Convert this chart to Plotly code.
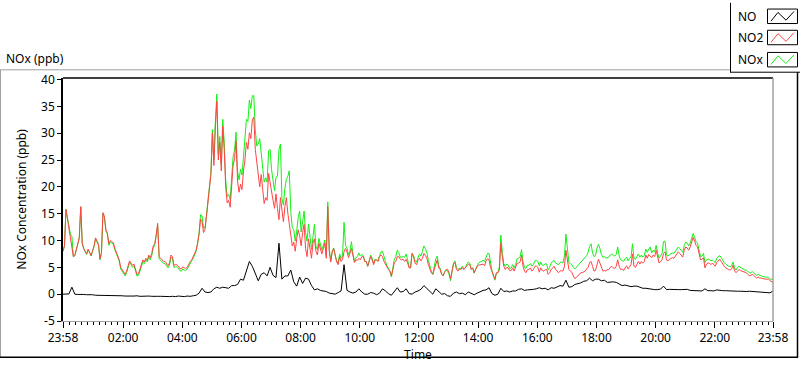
import pandas as pd
import plotly.graph_objects as go

# Time base: readings every 6 minutes from 23:58 to 23:58 next day,
# plus in-between readings (offset 3 min) for NO2 and NOx
start = pd.Timestamp("2023-01-01 23:58")
step_min = 6

no2 = [
    8.0, 15.8, 12.5, 9.5, 7.2, 9.3, 16.3, 8.5, 7.5, 7.8,
    8.1, 10.5, 9.3, 7.8, 14.5, 11.4, 10.0, 9.6, 7.8, 6.4,
    4.6, 3.7, 5.5, 5.8, 5.6, 3.7, 4.6, 6.4, 6.7, 7.3,
    7.6, 9.4, 13.2, 6.7, 6.1, 5.8, 5.8, 7.0, 5.5, 5.2,
    4.7, 4.9, 5.0, 6.1, 7.0, 8.2, 11.2, 13.5, 12.0,
    17.0, 22.3, 24.0, 36.0, 28.3, 31.3, 19.9, 17.5, 20.5, 25.3,
    21.1, 20.5, 22.9, 28.3, 30.1, 32.5, 27.0, 22.3, 22.3, 16.9,
    17.5, 20.5, 17.5, 18.7, 13.9, 15.1, 16.3, 15.1, 10.9, 9.7,
    10.3, 10.9, 11.5, 8.5, 10.3, 6.7, 10.3, 7.3, 8.5, 8.5,
    6.7, 8.0, 7.9, 7.3, 5.5, 6.1, 7.9, 7.9, 7.6,
    7.3, 6.4, 6.7, 7.0, 6.1, 5.2, 7.0, 5.5, 6.4, 7.0,
    7.0, 5.5, 4.6, 3.4, 5.9, 7.0, 6.5, 6.5, 6.5, 4.9,
    7.6, 5.8, 6.4, 6.2, 7.6, 6.7, 4.6, 3.7, 5.6, 4.9,
    3.7, 4.1, 4.6, 2.9, 5.6, 4.6, 4.7, 5.0, 5.0, 5.6,
    4.6, 4.0, 5.2, 5.5, 5.6, 6.2, 6.4,
    4.3, 2.8, 4.0, 9.5, 5.2, 5.0, 4.4, 4.9, 4.9, 5.8,
    7.3, 4.3, 4.6, 4.9, 4.6, 5.3, 4.1, 4.4, 4.6, 3.7,
    4.6, 5.2, 4.3, 4.3, 4.3, 8.2, 4.6, 4.1, 2.9, 3.4,
    4.0, 4.1, 4.7, 5.9, 5.2, 4.4, 6.5, 4.9, 4.4, 4.6,
    5.0, 4.9, 5.2, 5.2, 4.7, 4.9, 4.7, 5.5,
    5.2, 5.5, 5.6, 5.8, 7.3, 7.4, 6.8, 7.0, 6.7, 6.1,
    7.6, 6.4, 6.5, 6.8, 7.1, 7.9, 7.3, 8.2, 8.6, 8.8,
    10.6, 9.1, 7.4, 6.5, 4.9, 5.8, 5.5, 5.5, 5.9, 6.5,
    5.5, 4.9, 4.6, 4.7, 4.4, 4.4, 4.4, 4.2, 4.0, 3.4,
    3.7, 3.2, 3.2, 3.0, 2.8, 2.8, 2.5, 2.2,
]

no2_mid = [
    9.0, 14.0, 10.5, 7.0, 8.2, 10.5, 9.5, 8.0, 8.4, 7.2,
    9.0, 9.8, 6.6, 15.2, 12.0, 9.4, 9.8, 8.6, 7.0, 5.0,
    4.0, 4.3, 6.2, 5.4, 4.6, 3.8, 5.5, 6.0, 6.3, 6.8,
    9.0, 11.0, 7.0, 6.4, 6.1, 5.3, 7.3, 5.4, 5.5, 4.8,
    5.1, 4.8, 5.6, 6.4, 7.6, 9.5, 14.0, 11.5,
    14.5, 20.5, 30.0, 31.0, 25.0, 23.0, 27.0, 17.0, 16.2, 24.0,
    28.5, 19.0, 19.5, 25.0, 27.0, 29.0, 33.0, 24.5, 20.0, 20.0,
    18.0, 22.5, 19.0, 16.0, 16.0, 18.0, 13.5, 18.0, 13.0, 9.0,
    8.0, 12.0, 9.0, 13.0, 7.0, 8.0, 9.5, 8.0, 9.5, 7.5,
    9.5, 16.3, 6.0, 8.5, 6.0, 7.0, 6.5, 8.5, 6.8,
    8.5, 5.9, 6.3, 6.4, 7.0, 6.1, 6.4, 6.4, 6.4, 6.1,
    7.3, 6.1, 4.9, 4.3, 4.6, 6.1, 7.0, 6.4, 6.1, 5.8,
    4.9, 7.0, 5.5, 6.7, 6.7, 7.2, 5.5, 4.0, 4.6, 6.4,
    4.6, 3.4, 4.6, 4.0, 4.3, 5.9, 4.3, 4.6, 4.6, 5.4,
    5.5, 4.9, 4.6, 5.4, 5.6, 5.3, 6.6,
    5.0, 3.4, 4.0, 4.5, 7.0, 4.6, 4.9, 4.4, 4.3, 5.8,
    6.0, 5.2, 4.0, 4.6, 4.3, 5.2, 5.0, 4.9, 4.3, 4.6,
    4.0, 4.9, 4.6, 4.0, 4.4, 5.2, 5.8, 4.3, 3.4, 3.1,
    3.7, 4.0, 4.3, 5.0, 6.1, 4.3, 5.8, 5.8, 4.3, 4.3,
    4.6, 5.2, 4.8, 6.4, 4.6, 4.4, 5.3, 5.2,
    7.5, 5.0, 6.1, 6.1, 6.1, 6.7, 7.0, 7.3, 8.2, 5.8,
    6.4, 7.9, 6.2, 6.7, 6.7, 7.5, 7.6, 6.9, 8.8, 8.2,
    9.6, 9.9, 8.8, 6.4, 6.8, 5.6, 5.8, 5.8, 5.2, 6.2,
    6.1, 5.2, 4.7, 4.5, 5.4, 4.0, 4.6, 4.3, 4.0, 3.7,
    3.5, 3.5, 3.0, 3.0, 2.9, 2.8, 2.8, 2.4,
]

no = [
    0.0, 0.0, 0.05, 1.3, 0.0, -0.05, 0.0, -0.05, -0.1, -0.05,
    -0.1, -0.2, -0.2, -0.25, -0.2, -0.25, -0.3, -0.25, -0.3, -0.25,
    -0.3, -0.35, -0.3, -0.35, -0.35, -0.3, -0.4, -0.35, -0.3, -0.35,
    -0.4, -0.35, -0.4, -0.4, -0.45, -0.4, -0.45, -0.4, -0.45, -0.35,
    -0.4, -0.45, -0.35, -0.4, -0.3, -0.2, 0.2, 1.1, 0.4,
    0.3, 0.4, 1.0, 1.3, 1.1, 1.3, 1.2, 1.1, 1.6, 1.6,
    1.8, 2.8, 2.6, 4.3, 6.1, 5.2, 3.7, 2.5, 3.7, 4.0,
    3.4, 5.0, 3.5, 3.1, 9.5, 2.8, 3.4, 3.4, 4.5, 2.3,
    1.5, 3.2, 2.0, 3.0, 2.8, 1.6, 0.8, 1.0, 0.7, 0.6,
    0.5, 0.2, 0.1, 0.0, 0.3, 0.6, 5.5, 0.7, 0.4,
    0.2, 0.4, 1.0, 0.4, 0.0, 0.0, 0.3, 0.2, -0.1, 0.2,
    1.0, 0.6, 0.1, -0.2, 0.6, 1.2, 0.4, 0.5, 1.0, 0.1,
    0.0, 0.4, 0.6, 0.9, 1.6, 1.0, 0.5, 0.0, 1.0, 0.4,
    0.0, 0.1, -0.3, -0.4, 0.2, 0.4, 0.1, 0.2, -0.1, 0.4,
    0.1, -0.1, 0.2, 0.5, 0.7, 0.8, 1.2,
    0.1, -0.2, 0.0, 1.1, 0.5, 0.6, 0.4, 0.6, 0.6, 0.9,
    1.0, 0.7, 0.8, 0.8, 0.9, 1.0, 1.2, 1.0, 1.1, 0.8,
    1.2, 1.1, 1.3, 1.6, 1.5, 2.6, 1.3, 1.4, 1.8, 1.9,
    2.1, 2.4, 2.5, 3.0, 2.5, 2.8, 2.8, 2.5, 2.6, 2.2,
    2.3, 2.3, 2.2, 1.9, 1.6, 1.7, 1.5, 1.4,
    1.5, 1.5, 1.3, 1.1, 1.1, 1.0, 0.9, 0.85, 0.85, 0.95,
    1.5, 0.85, 0.9, 0.85, 0.85, 0.85, 0.85, 0.85, 0.9, 0.7,
    0.7, 0.65, 0.65, 0.6, 1.0, 0.65, 0.65, 0.6, 0.8, 0.7,
    0.65, 0.65, 0.6, 0.6, 0.5, 0.55, 0.55, 0.5, 0.5, 0.55,
    0.5, 0.5, 0.5, 0.4, 0.4, 0.35, 0.25, 0.6,
]

nox = [
    8.0, 15.8, 12.6, 10.8, 7.2, 9.3, 16.3, 8.5, 7.4, 7.8,
    8.0, 10.3, 9.1, 7.6, 14.3, 11.2, 9.7, 9.4, 7.5, 6.2,
    4.3, 3.4, 5.2, 5.5, 5.3, 3.4, 4.2, 6.1, 6.4, 7.0,
    7.2, 9.1, 12.8, 6.3, 5.7, 5.4, 5.4, 6.6, 5.1, 4.9,
    4.3, 4.5, 4.7, 5.7, 6.7, 8.0, 11.4, 14.6, 12.4,
    17.3, 22.7, 25.0, 37.3, 29.4, 32.6, 21.1, 18.6, 22.1, 26.9,
    22.9, 23.3, 25.5, 32.6, 36.2, 37.0, 30.7, 28.0, 26.0, 20.9,
    20.9, 27.0, 21.0, 21.8, 27.0, 17.9, 19.7, 22.0, 15.4, 12.0,
    11.8, 15.5, 13.5, 11.5, 13.1, 8.3, 13.0, 8.3, 9.2, 9.1,
    7.2, 8.3, 8.0, 7.3, 5.8, 6.7, 13.4, 8.6, 8.0,
    7.5, 6.8, 7.7, 7.4, 6.1, 5.2, 7.3, 5.7, 6.3, 7.2,
    8.0, 6.1, 4.7, 3.2, 6.5, 8.2, 6.9, 7.0, 7.5, 5.0,
    7.6, 6.2, 7.0, 7.1, 9.0, 7.7, 5.1, 3.7, 6.6, 5.3,
    3.7, 4.2, 4.3, 2.5, 5.8, 5.0, 4.8, 5.2, 4.9, 6.0,
    4.7, 3.9, 5.4, 6.0, 6.3, 7.0, 7.6,
    4.4, 2.6, 4.0, 11.0, 5.7, 5.6, 4.8, 5.5, 5.5, 6.7,
    8.3, 5.0, 5.4, 5.7, 5.5, 6.3, 5.3, 5.4, 5.7, 4.5,
    5.8, 6.3, 5.6, 5.9, 5.8, 11.2, 5.9, 5.5, 4.7, 5.3,
    6.1, 6.5, 7.2, 8.9, 7.7, 7.2, 9.3, 7.4, 7.0, 6.8,
    7.3, 7.2, 7.4, 7.1, 6.3, 6.6, 6.2, 6.9,
    6.7, 7.0, 6.9, 6.9, 8.4, 8.4, 7.7, 7.9, 7.6, 7.1,
    9.8, 7.3, 7.4, 7.7, 8.0, 8.8, 8.2, 9.1, 9.5, 9.5,
    11.3, 9.8, 8.1, 7.1, 5.9, 6.5, 6.2, 6.1, 6.7, 7.2,
    6.2, 5.6, 5.2, 5.3, 4.9, 5.0, 5.0, 4.7, 4.5, 4.0,
    4.2, 3.7, 3.7, 3.4, 3.2, 3.2, 2.8, 2.8,
]

nox_mid = [
    9.0, 14.0, 11.2, 7.0, 8.2, 10.5, 9.5, 7.9, 8.3, 7.1,
    8.9, 9.6, 6.4, 15.0, 11.8, 9.1, 9.5, 8.3, 6.7, 4.7,
    3.7, 4.0, 5.9, 5.0, 4.3, 3.5, 5.1, 5.7, 6.0, 6.4,
    8.6, 10.6, 6.6, 6.0, 5.7, 4.9, 6.9, 5.0, 5.1, 4.4,
    4.7, 4.4, 5.2, 6.0, 7.3, 9.5, 14.8, 12.3,
    14.8, 20.9, 30.7, 32.2, 26.2, 24.2, 28.3, 18.2, 17.6, 25.6,
    30.2, 21.3, 22.2, 28.5, 32.2, 34.6, 37.0, 27.6, 29.0, 23.8,
    21.7, 26.7, 23.2, 19.3, 22.0, 28.0, 16.6, 21.4, 23.0, 12.4,
    9.9, 14.3, 11.6, 15.5, 9.9, 10.2, 10.7, 8.9, 10.4, 8.2,
    10.1, 17.2, 6.2, 8.6, 6.2, 7.5, 7.1, 9.1, 7.4,
    9.8, 6.2, 7.0, 7.1, 7.2, 6.1, 6.6, 6.7, 6.5, 6.2,
    7.9, 6.9, 5.3, 4.3, 4.8, 7.0, 7.8, 6.9, 6.9, 6.4,
    5.0, 7.2, 6.0, 7.5, 8.0, 8.5, 6.3, 4.3, 5.1, 7.1,
    4.8, 3.5, 4.5, 3.7, 4.2, 6.2, 4.6, 4.8, 4.7, 5.6,
    5.8, 4.9, 4.7, 5.8, 6.2, 6.1, 7.6,
    5.6, 3.4, 3.9, 5.1, 7.8, 5.2, 5.4, 4.9, 4.9, 6.6,
    7.0, 6.1, 4.8, 5.4, 5.2, 6.2, 6.1, 6.0, 5.4, 5.6,
    5.0, 6.1, 5.8, 5.5, 6.0, 7.2, 7.7, 5.7, 5.0, 5.0,
    5.7, 6.3, 6.8, 7.8, 9.4, 7.0, 8.6, 8.5, 6.9, 6.7,
    6.9, 7.5, 7.1, 8.8, 6.4, 6.1, 6.9, 6.7,
    9.4, 6.5, 7.5, 7.3, 7.2, 7.8, 8.8, 8.2, 9.1, 6.7,
    7.6, 9.9, 7.1, 7.6, 7.6, 8.4, 8.5, 7.8, 9.7, 9.0,
    10.3, 10.6, 9.5, 7.0, 7.6, 6.4, 6.5, 6.4, 5.9, 7.0,
    6.8, 5.9, 5.3, 5.1, 6.0, 4.5, 5.2, 4.8, 4.5, 4.2,
    4.0, 4.0, 3.5, 3.5, 3.3, 3.2, 3.1, 2.8,
]

y_tick_vals = [40, 35, 30, 25, 20, 15, 10, 5, 0, -5]
y_tick_text = ["40", "35", "30", "25", "20", "15", "10", "5", "0", "-5"]
x_tick_text = ["23:58", "02:00", "04:00", "06:00", "08:00", "10:00", "12:00",
               "14:00", "16:00", "18:00", "20:00", "22:00", "23:58"]
x_tick_vals = ([start]
               + [pd.Timestamp("2023-01-02 00:00") + pd.Timedelta(hours=h) for h in range(2, 23, 2)]
               + [start + pd.Timedelta(hours=24)])

times = [start + pd.Timedelta(minutes=step_min * i) for i in range(len(no2))]
times_mid = [start + pd.Timedelta(minutes=step_min * i + 3) for i in range(len(no2_mid))]


def interleave(t_a, v_a, t_b, v_b):
    xs, ys = [], []
    for i in range(len(t_a)):
        xs.append(t_a[i]); ys.append(v_a[i])
        if i < len(t_b):
            xs.append(t_b[i]); ys.append(v_b[i])
    return xs, ys


x_no2, y_no2 = interleave(times, no2, times_mid, no2_mid)
x_nox, y_nox = interleave(times, nox, times_mid, nox_mid)

C_NO = "#000000"
C_NO2 = "#ff4444"
C_NOX = "#14f014"

fig = go.Figure()
fig.add_trace(go.Scatter(x=x_nox, y=y_nox, mode="lines", name="NOx",
                         line=dict(color=C_NOX, width=1)))
fig.add_trace(go.Scatter(x=x_no2, y=y_no2, mode="lines", name="NO2",
                         line=dict(color=C_NO2, width=1)))
fig.add_trace(go.Scatter(x=times, y=no, mode="lines", name="NO",
                         line=dict(color=C_NO, width=1)))

font = "Noto Sans, Liberation Sans, Arial, sans-serif"

fig.update_layout(
    width=800, height=369,
    margin=dict(l=63, r=27, t=78, b=39),
    paper_bgcolor="white", plot_bgcolor="white",
    showlegend=False,
    font=dict(family=font, size=12, color="#000000"),
    xaxis=dict(
        range=[start, start + pd.Timedelta(hours=24)],
        tickvals=x_tick_vals, ticktext=x_tick_text,
        ticks="outside", ticklen=6, tickcolor="#000000", tickwidth=1,
        showline=True, linecolor="#a0a0a0", linewidth=1,
        showgrid=False, zeroline=False,
        title=dict(text="Time", standoff=2, font=dict(size=12)),
        tickfont=dict(size=12),
        minor=dict(ticks="outside", ticklen=3, tickcolor="#000000",
                   dtick=12 * 60 * 1000, tick0="2023-01-02 00:00", showgrid=False),
    ),
    yaxis=dict(
        range=[-5, 40.3],
        tickvals=y_tick_vals, ticktext=y_tick_text,
        ticks="outside", ticklen=4, tickcolor="#000000",
        showline=True, linecolor="#000000", linewidth=1.5,
        showgrid=False, zeroline=False,
        title=dict(text="NOx Concentration (ppb)", standoff=12, font=dict(size=12)),
        tickfont=dict(size=12),
    ),
)

# plot-area frame: top dark, right light
fig.add_shape(type="line", xref="paper", yref="paper", x0=0, x1=1, y0=1, y1=1,
              line=dict(color="#000000", width=1.5))
fig.add_shape(type="line", xref="paper", yref="paper", x0=1, x1=1, y0=0, y1=1,
              line=dict(color="#a0a0a0", width=1.5))

# outer panel frame (pixel coordinates converted to paper)
pl, pr, pt, pb = 63, 773, 78, 330


def px(x):
    return (x - pl) / (pr - pl)


def py(y):
    return (pb - y) / (pb - pt)


fig.add_shape(type="line", xref="paper", yref="paper", x0=px(0), x1=px(730), y0=py(69.5), y1=py(69.5),
              line=dict(color="#a0a0a0", width=1))
fig.add_shape(type="line", xref="paper", yref="paper", x0=px(0.5), x1=px(0.5), y0=py(69.5), y1=py(368),
              line=dict(color="#a0a0a0", width=1))
fig.add_shape(type="line", xref="paper", yref="paper", x0=px(0), x1=px(798), y0=py(367.5), y1=py(367.5),
              line=dict(color="#000000", width=1.5))
fig.add_shape(type="line", xref="paper", yref="paper", x0=px(797.5), x1=px(797.5), y0=py(72), y1=py(368),
              line=dict(color="#000000", width=1.5))

# legend box
fig.add_shape(type="line", xref="paper", yref="paper", x0=px(730.5), x1=px(730.5), y0=py(0), y1=py(72),
              line=dict(color="#000000", width=1))
fig.add_shape(type="line", xref="paper", yref="paper", x0=px(730), x1=px(800), y0=py(72), y1=py(72),
              line=dict(color="#000000", width=1))

legend_names = ["NO", "NO2", "NOx"]
legend_colors = [C_NO, C_NO2, C_NOX]
legend_y = [14, 36, 59]
for name, col, yc in zip(legend_names, legend_colors, legend_y):
    fig.add_annotation(xref="paper", yref="paper", x=px(736), y=py(yc), text=name,
                       showarrow=False, xanchor="left", yanchor="middle",
                       font=dict(family=font, size=12, color="#000000"))
    fig.add_shape(type="rect", xref="paper", yref="paper",
                  x0=px(767.5), x1=px(797.5), y0=py(yc - 7.5), y1=py(yc + 7.5),
                  line=dict(color="#000000", width=1), fillcolor="white")
    pts = [(771, yc + 5), (778, yc - 4), (786, yc + 4), (794, yc - 5)]
    path = "M " + " L ".join(f"{px(a)},{py(b)}" for a, b in pts)
    fig.add_shape(type="path", xref="paper", yref="paper", path=path,
                  line=dict(color=col, width=1))

fig.add_annotation(xref="paper", yref="paper", x=px(4), y=py(58), text="NOx (ppb)",
                   showarrow=False, xanchor="left", yanchor="middle",
                   font=dict(family=font, size=12, color="#000000"))

fig.write_html("out.html",
               config={"displayModeBar": False},
               post_script="document.body.style.margin='0';document.body.style.padding='0';"
                           "document.body.style.overflow='hidden';")
